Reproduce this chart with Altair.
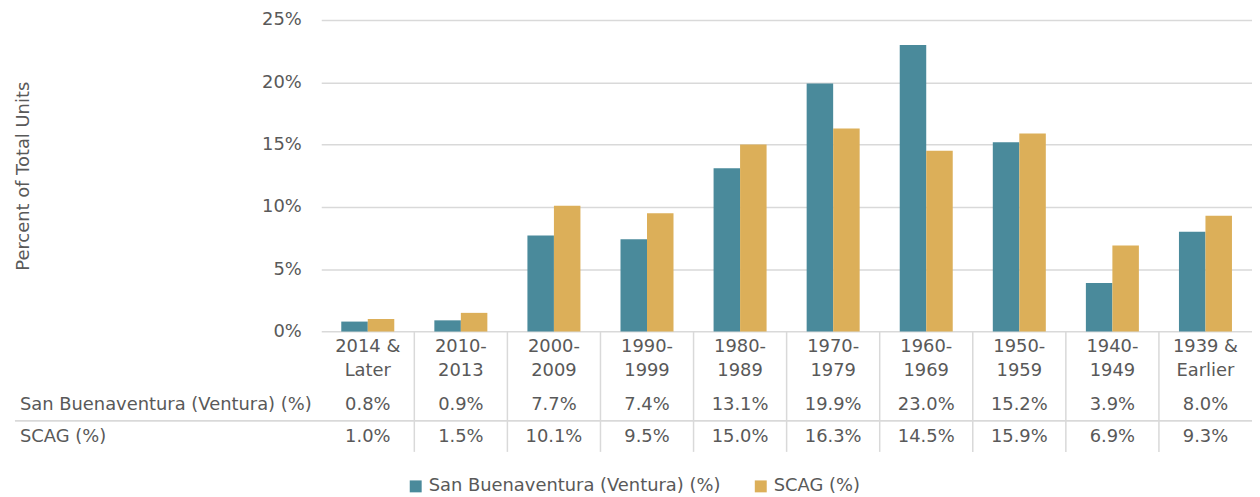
import altair as alt
import pandas as pd

# ---- data ----
cats_top = ["2014 &", "2010-", "2000-", "1990-", "1980-", "1970-", "1960-", "1950-", "1940-", "1939 &"]
cats_bottom = ["Later", "2013", "2009", "1999", "1989", "1979", "1969", "1959", "1949", "Earlier"]
series_names = ["San Buenaventura (Ventura) (%)", "SCAG (%)"]
ventura = [0.8, 0.9, 7.7, 7.4, 13.1, 19.9, 23.0, 15.2, 3.9, 8.0]
scag = [1.0, 1.5, 10.1, 9.5, 15.0, 16.3, 14.5, 15.9, 6.9, 9.3]
y_ticks = [0, 5, 10, 15, 20, 25]
colors = ["#4A8A9B", "#DCAF59"]

cats = [f"{a} {b}" for a, b in zip(cats_top, cats_bottom)]

rows = []
for s, vals in zip(series_names, [ventura, scag]):
    for c, v in zip(cats, vals):
        rows.append({"cat": c, "series": s, "value": v})
long_df = pd.DataFrame(rows)
cat_df = pd.DataFrame({"cat": cats, "top": cats_top, "bottom": cats_bottom})
bound_df = pd.DataFrame({"cat": cats[1:]})
rowlab_df = pd.DataFrame({"label": series_names})

FONT = "DejaVu Sans"
TXT = "#595959"
GRID = "#D9D9D9"
H = 313.3
W = 936

xscale = alt.Scale(domain=cats, paddingInner=0, paddingOuter=0)

def xenc(**kw):
    return alt.X("cat:N", sort=cats, scale=xscale, axis=None, **kw)

bars = alt.Chart(long_df).mark_bar().encode(
    x=xenc(),
    xOffset=alt.XOffset("series:N", sort=series_names,
                        scale=alt.Scale(domain=series_names, paddingInner=0, paddingOuter=0.756)),
    y=alt.Y("value:Q",
            scale=alt.Scale(domain=[0, 25], nice=False, zero=True),
            axis=alt.Axis(values=y_ticks, labelExpr="datum.value + '%'",
                          grid=True, gridColor=GRID, gridWidth=1.5,
                          domain=False, ticks=False, labelPadding=20,
                          labelFont=FONT, labelFontSize=18, labelColor=TXT,
                          title="Percent of Total Units", titleFont=FONT,
                          titleFontSize=18, titleColor=TXT, titleFontWeight="normal",
                          titleX=-299, titleY=H / 2, titleAngle=270,
                          titleAlign="center", titleBaseline="middle")),
    color=alt.Color("series:N", sort=series_names,
                    scale=alt.Scale(domain=series_names, range=colors),
                    legend=alt.Legend(orient="none", legendX=86, legendY=460,
                                      direction="horizontal", title=None,
                                      symbolType="square", symbolSize=144,
                                      symbolStrokeWidth=0, labelFont=FONT,
                                      labelFontSize=18, labelColor=TXT,
                                      labelLimit=0,
                                      labelOffset=4, columnPadding=31, padding=0)),
)

vlines = alt.Chart(bound_df).mark_rule(color=GRID, strokeWidth=1.5).encode(
    x=xenc(bandPosition=0),
    y=alt.value(H),
    y2=alt.value(434.3),
)

hsep = alt.Chart(rowlab_df).mark_rule(color=GRID, strokeWidth=1.5).encode(
    x=alt.value(-308), x2=alt.value(W), y=alt.value(403)
)

def text_layer(df, field, yv):
    return alt.Chart(df).mark_text(font=FONT, fontSize=18, color=TXT, baseline="middle").encode(
        x=xenc(), y=alt.value(yv), text=f"{field}:N"
    )

top_lab = text_layer(cat_df, "top", 329)
bot_lab = text_layer(cat_df, "bottom", 353)

row_vals = []
for s, yv in zip(series_names, [387, 419]):
    row_vals.append(
        alt.Chart(long_df).transform_filter(alt.datum.series == s)
        .transform_calculate(label="format(datum.value, '.1f') + '%'")
        .mark_text(font=FONT, fontSize=18, color=TXT, baseline="middle")
        .encode(x=xenc(), y=alt.value(yv), text="label:N")
    )

row_labels = []
for s, yv in zip(series_names, [387, 419]):
    row_labels.append(
        alt.Chart(rowlab_df).transform_filter(alt.datum.label == s)
        .mark_text(font=FONT, fontSize=18, color=TXT, baseline="middle", align="left")
        .encode(x=alt.value(-303), y=alt.value(yv), text="label:N")
    )

chart = alt.layer(
    bars, vlines, hsep, top_lab, bot_lab, *row_vals, *row_labels
).properties(
    width=W, height=H,
    autosize=alt.AutoSizeParams(type="none"),
    padding={"left": 315, "top": 10.7, "right": 0, "bottom": 164},
).configure_view(stroke=None)

chart.save("out.html", embed_options={"renderer": "svg", "actions": False})
